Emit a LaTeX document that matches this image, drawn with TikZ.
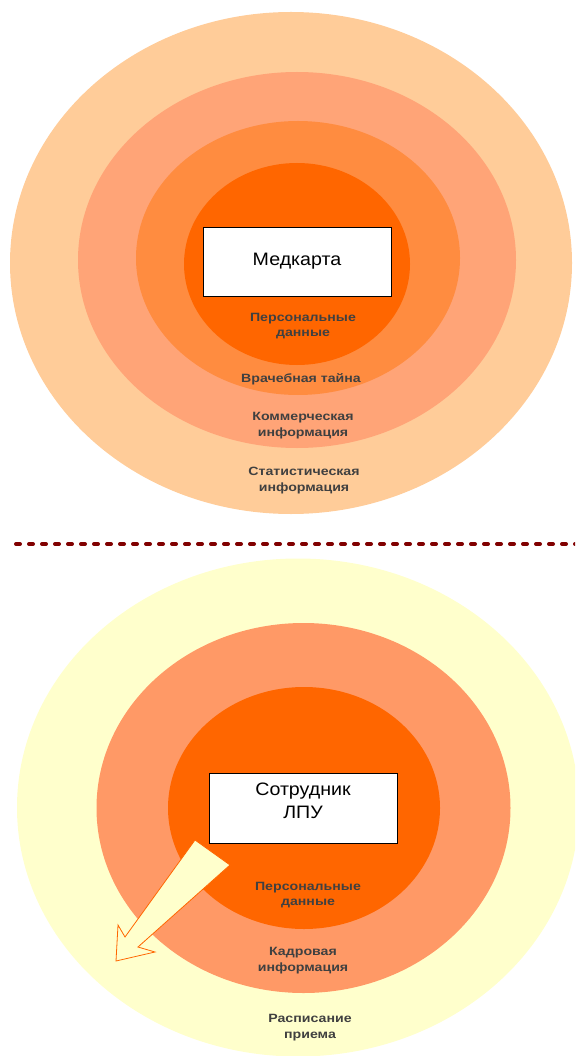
\documentclass[tikz,border=0pt]{standalone}
\usepackage{fontspec}
\setmainfont{Liberation Sans}
\newfontfamily\lblfont[FakeStretch=1.18]{Liberation Sans}
\newfontfamily\boxfont[FakeStretch=1.09]{Liberation Sans}
\definecolor{cA}{HTML}{FFCC99}
\definecolor{cB}{HTML}{FFA477}
\definecolor{cC}{HTML}{FF8C40}
\definecolor{cD}{HTML}{FF6600}
\definecolor{cY}{HTML}{FFFFCC}
\definecolor{cS}{HTML}{FF9966}
\definecolor{txt}{HTML}{404040}
\definecolor{dred}{HTML}{800000}
\begin{document}
\begin{tikzpicture}[x=1pt,y=-1pt,
  lbl/.style={font=\lblfont\fontsize{12}{15.5}\selectfont\bfseries, text=txt, align=center, inner sep=0pt},
  whitebox/.style={draw=black, line width=0.8pt, fill=white, minimum width=188pt, minimum height=69pt, inner sep=0pt, font=\boxfont\fontsize{18}{23}\selectfont, align=center}]
\useasboundingbox (0,0) rectangle (575,1056);
\clip (0,0) rectangle (575,1056);
% top rings
\fill[cA] (291,263) ellipse [x radius=281, y radius=251];
\fill[cB] (297,260) ellipse [x radius=219, y radius=188];
\fill[cC] (298,258) ellipse [x radius=162, y radius=137];
\fill[cD] (297,264) ellipse [x radius=113, y radius=101];
\node[whitebox] (med) at (297,261.5) {Медкарта};
\node[lbl] (pd1) at (303,326) {Персональные\\данные};
\node[lbl] (vt) at (301,379) {Врачебная тайна};
\node[lbl] (ki) at (303,425.5) {Коммерческая\\информация};
\node[lbl] (si) at (304,480.5) {Статистическая\\информация};
% separator
\coordinate (sepL) at (16,544);
\coordinate (sepR) at (580,544);
\draw[dred, line width=4pt, line cap=round, dash pattern=on 4pt off 9pt] (sepL) -- (sepR);
% bottom rings
\fill[cY] (298,807.5) ellipse [x radius=281, y radius=249];
\fill[cS] (303.5,808) ellipse [x radius=207, y radius=185];
\fill[cD] (304,808) ellipse [x radius=136, y radius=121];
\node[whitebox, minimum height=70pt] (emp) at (303,808) {};
\node[font=\boxfont\fontsize{18}{23}\selectfont, align=center, inner sep=0pt] (empt) at (303,801) {Сотрудник\\ЛПУ};
\node[lbl] (pd2) at (308,895) {Персональные\\данные};
\node[lbl] (kd) at (303,960.5) {Кадровая\\информация};
\node[lbl] (rp) at (310,1027.5) {Расписание\\приема};
% arrow
\draw[cD, fill=cY, line width=0.8pt, line join=miter]
  (195,840) -- (230,865) -- (138,947) -- (155,952) -- (116,961) -- (118,925) -- (125,937) -- cycle;
\end{tikzpicture}
\end{document}
